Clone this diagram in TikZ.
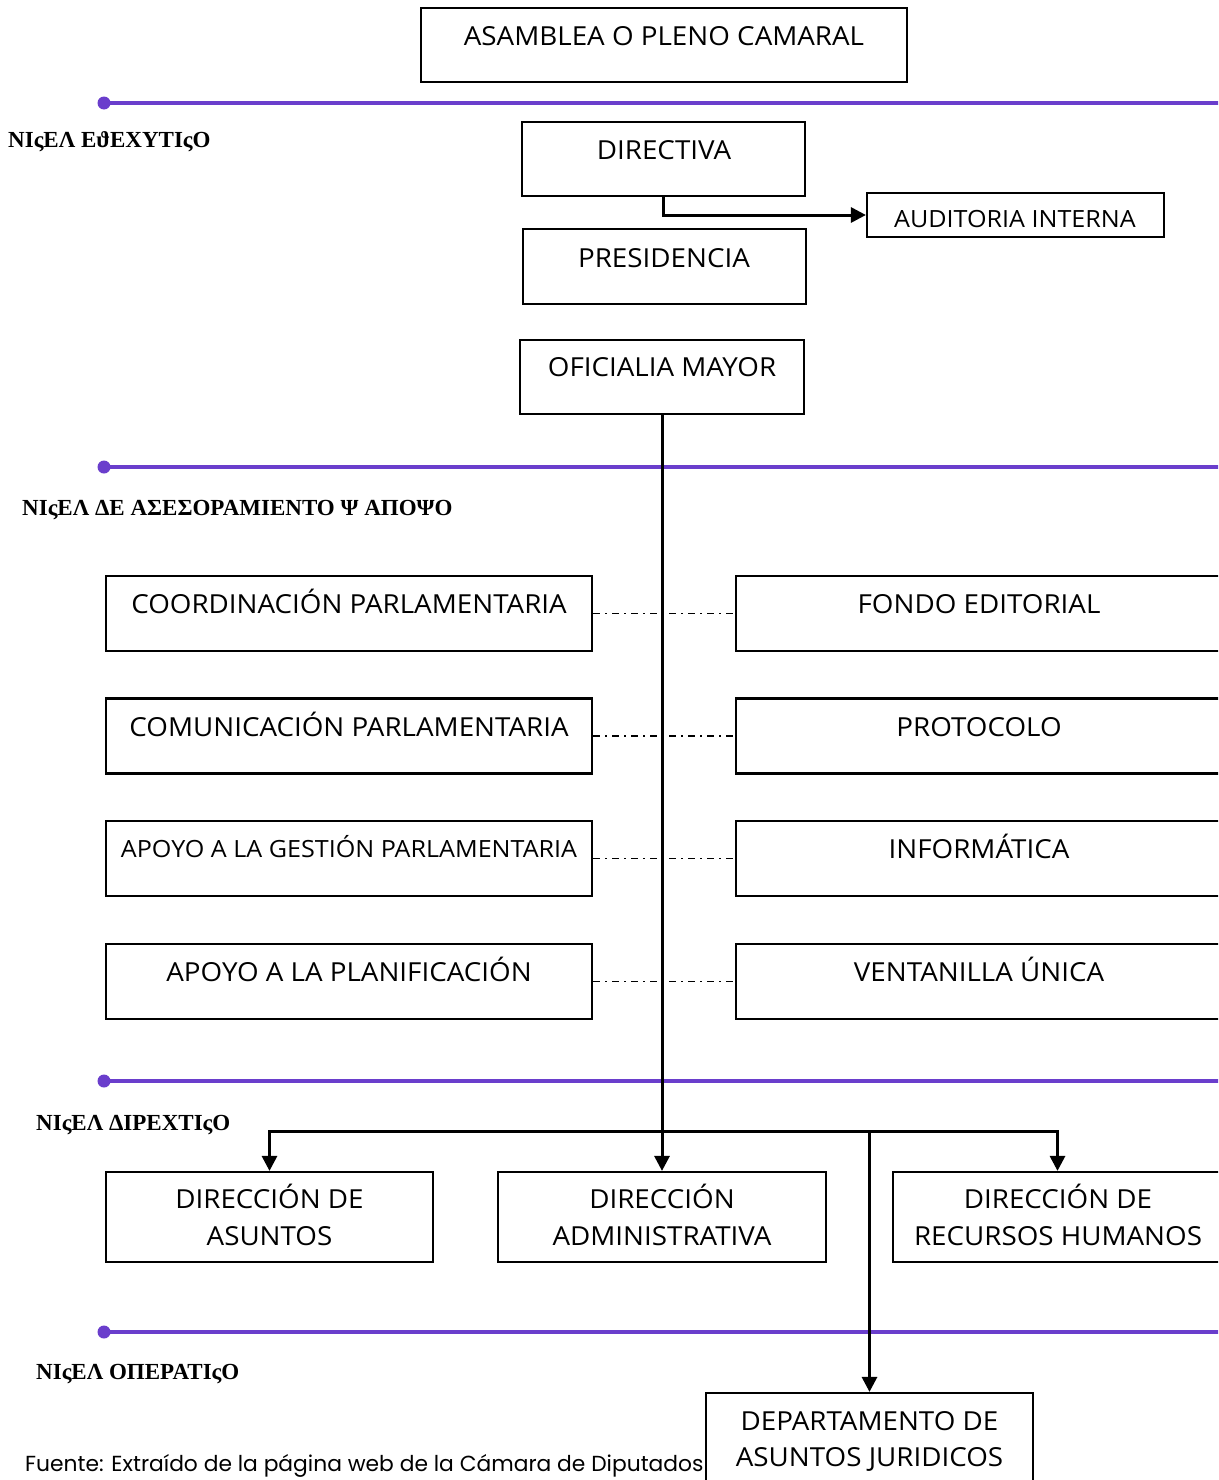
\documentclass[tikz,border=0pt]{standalone}
\usepackage{fontspec}
\setmainfont{Open Sans}[FakeStretch=1.06]
\newfontfamily\lvlfont{Liberation Serif}
\newfontfamily\footfont{Poppins}
\usetikzlibrary{arrows.meta}
\definecolor{lvlpurple}{RGB}{106,62,204}
\tikzset{
  box/.style={draw, line width=2.2pt, inner sep=0pt, fill=none},
  txt/.style={anchor=base, inner sep=0pt, font=\fontsize{26.2}{32}\selectfont},
  stxt/.style={anchor=base, inner sep=0pt, font=\fontsize{23.7}{29}\selectfont},
  lvl/.style={anchor=base west, inner sep=0pt, font=\lvlfont\bfseries\fontsize{23}{27}\selectfont},
  conn/.style={line width=3pt},
  arr/.style={-{Triangle[length=15pt,width=15pt]}},
  dd/.style={line width=1.6pt, dash pattern=on 7pt off 5pt on 2pt off 5pt},
  pline/.style={line width=3.4pt, lvlpurple},
}
\begin{document}
\begin{tikzpicture}[x=1pt,y=-1pt]
\clip (0,0) rectangle (1218,1480);
\fill[white] (0,0) rectangle (1218,1480);
% purple level lines
\foreach \yy in {103,467,1081,1332}{
  \draw[pline] (104,\yy) -- (1230,\yy);
  \fill[lvlpurple] (104,\yy) circle (6.5);
}
\node[lvl] (l1) at (8,147) {NIςEΛ EϑEXYTIςO};
\node[lvl] (l2) at (22,515) {NIςEΛ ΔE AΣEΣOPAMIENTO Ψ AΠOΨO};
\node[lvl] (l3) at (36,1130) {NIςEΛ ΔIPEXTIςO};
\node[lvl] (l4) at (36,1379) {NIςEΛ OΠEPATIςO};

% top boxes
\node[box, minimum width=486, minimum height=74] (asam) at (664,45) {};
\node[txt] (tasam) at (664,46) {ASAMBLEA O PLENO CAMARAL};
\node[box, minimum width=283, minimum height=74] (dir) at (663.5,159) {};
\node[txt] (tdir) at (664,159) {DIRECTIVA};
\node[box, minimum width=297, minimum height=44] (aud) at (1015.5,215) {};
\node[stxt] (taud) at (1015,227) {AUDITORIA INTERNA};
\node[box, minimum width=283, minimum height=75] (pres) at (664.5,266.5) {};
\node[txt] (tpres) at (664,267) {PRESIDENCIA};
\node[box, minimum width=284, minimum height=74] (ofi) at (662,377) {};
\node[txt] (tofi) at (662,376) {OFICIALIA MAYOR};

% advisory boxes
\node[box, minimum width=486, minimum height=75] (a1) at (349,613.5) {};
\node[txt] (ta1) at (349,613) {COORDINACIÓN PARLAMENTARIA};
\node[box, minimum width=486, minimum height=75] (a2) at (349,736) {};
\node[txt] (ta2) at (349,736) {COMUNICACIÓN PARLAMENTARIA};
\node[box, minimum width=486, minimum height=75] (a3) at (349,858.5) {};
\node[stxt] (ta3) at (349,857) {APOYO A LA GESTIÓN PARLAMENTARIA};
\node[box, minimum width=486, minimum height=75] (a4) at (349,981.5) {};
\node[txt] (ta4) at (349,981) {APOYO A LA PLANIFICACIÓN};

\node[box, minimum width=486, minimum height=75] (b1) at (979,613.5) {};
\node[txt] (tb1) at (979,613) {FONDO EDITORIAL};
\node[box, minimum width=486, minimum height=75] (b2) at (979,736) {};
\node[txt] (tb2) at (979,736) {PROTOCOLO};
\node[box, minimum width=486, minimum height=75] (b3) at (979,858.5) {};
\node[txt] (tb3) at (979,858) {INFORMÁTICA};
\node[box, minimum width=486, minimum height=75] (b4) at (979,981.5) {};
\node[txt] (tb4) at (979,981) {VENTANILLA ÚNICA};

% directive boxes
\node[box, minimum width=327, minimum height=90] (d1) at (269.5,1217) {};
\node[txt] (td1a) at (269.5,1208) {DIRECCIÓN DE};
\node[txt] (td1b) at (269.5,1245) {ASUNTOS};
\node[box, minimum width=328, minimum height=90] (d2) at (662,1217) {};
\node[txt] (td2a) at (662,1208) {DIRECCIÓN};
\node[txt] (td2b) at (662,1245) {ADMINISTRATIVA};
\node[box, minimum width=329, minimum height=90] (d3) at (1057.5,1217) {};
\node[txt] (td3a) at (1058,1208) {DIRECCIÓN DE};
\node[txt] (td3b) at (1058,1245) {RECURSOS HUMANOS};

% operative box
\node[box, minimum width=327, minimum height=97] (dep) at (869.5,1441.5) {};
\node[txt] (tdepa) at (869.5,1430) {DEPARTAMENTO DE};
\node[txt] (tdepb) at (869.5,1466) {ASUNTOS JURIDICOS};

% footer
\node[anchor=base west, inner sep=0pt, font=\footfont\fontsize{21.8}{26}\selectfont] (foot) at (25,1471) {Fuente: Extraído de la página web de la Cámara de Diputados};

% connectors
\draw[conn,arr] (dir.south) |- (aud.west);
\draw[conn,arr] (ofi.south) -- (d2.north);
\coordinate (br) at (ofi.south |- 0,1131);
\draw[conn,arr] (br) -| (d1.north);
\draw[conn,arr] (br) -| (d3.north);
\draw[conn,arr] (br) -| (dep.north);

\draw[dd] (a1.east) -- (b1.west);
\draw[dd] (a2.east) -- (b2.west);
\draw[dd] (a3.east) -- (b3.west);
\draw[dd] (a4.east) -- (b4.west);
\end{tikzpicture}
\end{document}
